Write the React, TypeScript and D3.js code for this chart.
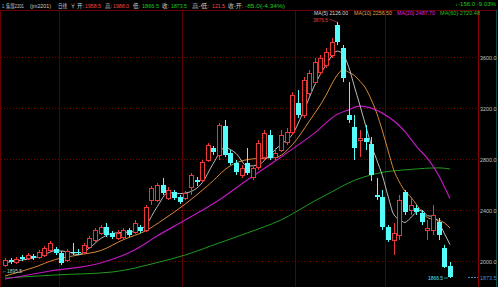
import React from "react";
import * as d3 from "d3";

const W = 498;
const H = 287;

// OHLC, one entry per trading day (index 0..79)
const opens = [1966, 2005, 1990, 2029, 2021, 2037, 2029, 2045, 2084, 2092, 2060, 2005, 2068, 2068, 2068, 2108, 2163, 2218, 2265, 2218,
  2178, 2186, 2241, 2226, 2265, 2241, 2477, 2477, 2595, 2493, 2540, 2501, 2493, 2579, 2634, 2634, 2791, 2886, 2831, 3059,
  2846, 2768, 2674, 2768, 2658, 2737, 2815, 2988, 2815, 2870, 2933, 3012, 3240, 3145, 3318, 3405, 3483, 3538, 3617, 3853,
  3672, 3145, 3051, 2949, 2965, 2917, 2516, 2501, 2265, 2163, 2202, 2540, 2398, 2414, 2375, 2241, 2241, 2304, 2100, 1958.5];
const highs = [2021, 2021, 2029, 2045, 2060, 2053, 2084, 2115, 2155, 2108, 2076, 2092, 2139, 2092, 2139, 2194, 2257, 2281, 2296, 2233,
  2241, 2257, 2257, 2320, 2281, 2438, 2587, 2611, 2650, 2579, 2556, 2516, 2548, 2690, 2658, 2791, 2925, 2902, 3083, 3106,
  2870, 2791, 2752, 2886, 2752, 2949, 3027, 3027, 2886, 3027, 3043, 3326, 3342, 3444, 3499, 3593, 3617, 3672, 3750, 3876.5,
  3695, 3405, 3145, 3027, 3067, 2972, 2650, 2556, 2281, 2296, 2516, 2556, 2493, 2438, 2398, 2320, 2438, 2336, 2123, 1988];
const lows = [1950, 1974, 1974, 1998, 2005, 2005, 2013, 2029, 2068, 2045, 1966, 1990, 2045, 2045, 2053, 2092, 2147, 2202, 2186, 2171,
  2163, 2171, 2186, 2210, 2218, 2226, 2438, 2461, 2516, 2477, 2477, 2446, 2477, 2516, 2587, 2619, 2776, 2831, 2791, 2815,
  2752, 2674, 2650, 2674, 2634, 2713, 2791, 2791, 2791, 2854, 2909, 2988, 3122, 3122, 3295, 3381, 3460, 3515, 3593, 3695,
  3405, 3083, 2791, 2815, 2870, 2627, 2477, 2241, 2147, 2045, 2163, 2359, 2359, 2359, 2281, 2163, 2202, 2163, 1943, 1866.5];
const closes = [2005, 1990, 2013, 2013, 2045, 2021, 2068, 2100, 2139, 2060, 1982, 2076, 2060, 2064, 2123, 2178, 2241, 2265, 2202, 2186,
  2218, 2241, 2202, 2296, 2233, 2422, 2571, 2595, 2532, 2556, 2493, 2461, 2532, 2674, 2619, 2776, 2909, 2854, 3067, 2831,
  2768, 2697, 2729, 2690, 2729, 2925, 3004, 2807, 2846, 2988, 3012, 3302, 3145, 3420, 3475, 3561, 3593, 3640, 3719, 3719,
  3436, 3106, 2886, 2965, 2933, 2674, 2501, 2265, 2163, 2218, 2477, 2383, 2438, 2383, 2304, 2257, 2359, 2202, 1950, 1873.5];

// Moving averages: [day index, value]
const ma5: [number, number][] = [[0, 1985], [3, 2005], [5, 2020], [7, 2050], [9, 2078], [11, 2071], [13, 2048], [15, 2100], [17, 2174],
  [19, 2214], [21, 2222], [23, 2229], [25, 2279], [27, 2423], [29, 2535], [31, 2527], [33, 2543], [35, 2612], [37, 2766], [39, 2887],
  [41, 2843], [43, 2743], [45, 2754], [47, 2831], [49, 2914], [51, 2991], [53, 3173], [55, 3381], [57, 3538], [59, 3646], [60, 3621],
  [61, 3524], [62, 3373], [63, 3222], [64, 3065], [65, 2913], [66, 2792], [67, 2668], [68, 2507], [69, 2364], [70, 2325], [71, 2301],
  [72, 2336], [73, 2380], [74, 2397], [75, 2353], [76, 2348], [77, 2301], [78, 2214], [79, 2126]];
const ma10: [number, number][] = [[0, 1880], [5, 1945], [9, 2010], [13, 2045], [17, 2080], [21, 2165], [25, 2235], [28, 2320], [32, 2445],
  [36, 2590], [40, 2745], [44, 2800], [48, 2810], [51, 2910], [54, 3095], [57, 3300], [58, 3386], [59, 3459], [60, 3501], [61, 3481],
  [62, 3456], [63, 3410], [64, 3356], [65, 3267], [66, 3158], [67, 3020], [68, 2865], [69, 2715], [70, 2619], [71, 2547], [72, 2502],
  [73, 2444], [74, 2381], [75, 2339], [76, 2325], [77, 2318], [78, 2297], [79, 2256.5]];
const ma20: [number, number][] = [[0, 1856], [8, 1919], [17, 1982], [23, 2084], [27, 2194], [32, 2320], [38, 2477], [43, 2634], [49, 2815],
  [55, 3004], [59, 3150], [61, 3185], [63, 3214], [67, 3159], [71, 3014], [73, 2900], [75, 2803], [76, 2741], [77, 2669], [78, 2581], [79, 2487.7]];
const ma60: [number, number][] = [[0, 1864], [9, 1888], [19, 1911], [27, 1985], [32, 2045], [38, 2139], [43, 2218], [49, 2320], [55, 2470],
  [58, 2540], [61, 2611], [66, 2685], [72, 2717], [77, 2729], [79, 2720.48]];

const yTicks = [2000, 2400, 2800, 3200, 3600];
const periodStarts = [10, 32, 52, 68];

const header: [string, number, number, string][] = [
  ["1.", 2, 3, "#c8c8c8"], ["焦煤2201", 6, 18, "#c8c8c8"], ["(jm2201)", 30, 21, "#c8c8c8"], ["日线", 58, 9, "#c8c8c8"],
  ["∀", 71, 4, "#c8c8c8"], ["开:", 77, 7, "#c8c8c8"], ["1958.5", 85, 16, "#ff4040"], ["高:", 105, 7, "#c8c8c8"],
  ["1988.0", 113, 16, "#ff4040"], ["低:", 133, 7, "#c8c8c8"], ["1866.5", 142, 17, "#20c820"], ["收:", 162, 7, "#c8c8c8"],
  ["1873.5", 171, 16, "#20c820"], ["高-低:", 192, 17, "#c8c8c8"], ["121.5", 212, 13, "#ff4040"], ["收-开:", 228, 15, "#c8c8c8"],
  ["-85.0(-4.34%)", 245, 40, "#20c820"],
];
const maLegend: [string, number, number, string][] = [
  ["MA(5) 2126.00", 314, 34, "#d8d8d8"], ["MA(10) 2256.50", 354, 38, "#e8a040"],
  ["MA(20) 2487.70", 397, 38, "#e020e0"], ["MA(60) 2720.48", 440, 40, "#20c020"],
];

const CYAN = "#54fcfc";
const RED = "#e83838";
const FONT = "'Liberation Sans', 'Noto Sans CJK SC', sans-serif";

export default function App() {
  const x = d3.scaleLinear().domain([0, 79]).range([5, 450]);
  const y = d3.scaleLinear().domain([2000, 3600]).range([260.7, 57]);
  const step = x(1) - x(0);
  const line = d3.line<[number, number]>().x((d) => x(d[0])).y((d) => y(d[1])).curve(d3.curveMonotoneX);
  const plotRight = 478;

  return (
    <svg width={W} height={H} style={{ position: "fixed", left: 0, top: 0, background: "#000" }}>
      <rect x={0} y={0} width={W} height={H} fill="#000" />
      {/* frame lines */}
      <line x1={0} x2={W} y1={10.5} y2={10.5} stroke="#6a0000" />
      <line x1={0.5} x2={0.5} y1={10} y2={H} stroke="#6a0000" />
      <line x1={plotRight + 0.5} x2={plotRight + 0.5} y1={10} y2={H} stroke="#8a0000" />
      <line x1={496.5} x2={496.5} y1={10} y2={H} stroke="#0c4a4a" />
      {/* vertical period lines */}
      {periodStarts.map((p) => {
        const xx = Math.round(x(p) - step / 2) + 0.5;
        return <line key={p} x1={xx} x2={xx} y1={11} y2={H} stroke="#5a0000" />;
      })}
      {/* horizontal grid */}
      {yTicks.map((t) => {
        const yy = Math.round(y(t)) + 0.5;
        return (
          <g key={t}>
            <line x1={1} x2={plotRight} y1={yy} y2={yy} stroke="#7a0000" strokeDasharray="1,2" />
            <text x={480} y={yy + 2} fontSize={5.4} fill="#c0c0c0" fontFamily={FONT}>
              {t.toFixed(1)}
            </text>
          </g>
        );
      })}
      {/* MA lines */}
      <path d={line(ma60) || ""} fill="none" stroke="#1f9a1f" strokeWidth={1} />
      <path d={line(ma20) || ""} fill="none" stroke="#c018c0" strokeWidth={1.2} />
      <path d={line(ma10) || ""} fill="none" stroke="#d88a38" strokeWidth={1} />
      <path d={line(ma5) || ""} fill="none" stroke="#d0d0d0" strokeWidth={0.9} />
      {/* candles */}
      {closes.map((c, i) => {
        const o = opens[i];
        const cx = Math.round(x(i)) + 0.5;
        const up = c >= o;
        const top = Math.round(y(Math.max(o, c)));
        const bot = Math.round(y(Math.min(o, c)));
        const hy = Math.round(y(highs[i]));
        const ly = Math.round(y(lows[i]));
        const bw = 4;
        if (up) {
          return (
            <g key={i} shapeRendering="crispEdges">
              <line x1={cx} x2={cx} y1={hy} y2={top} stroke={RED} />
              <line x1={cx} x2={cx} y1={bot} y2={ly} stroke={RED} />
              <rect x={cx - bw / 2} y={top + 0.5} width={bw} height={Math.max(bot - top, 1)} fill="#000" stroke={RED} strokeWidth={1} />
            </g>
          );
        }
        return (
          <g key={i} shapeRendering="crispEdges">
            <line x1={cx} x2={cx} y1={hy} y2={ly} stroke={CYAN} />
            <rect x={cx - bw / 2 - 0.5} y={top} width={bw + 1} height={Math.max(bot - top, 1)} fill={CYAN} />
          </g>
        );
      })}
      {/* extreme labels */}
      <text x={313} y={21.5} fontSize={5.5} fill="#e04040" fontFamily={FONT} textLength={15} lengthAdjust="spacingAndGlyphs">3876.5</text>
      <line x1={329} x2={Math.round(x(59))} y1={19} y2={Math.round(y(3876.5))} stroke="#e04040" strokeWidth={0.6} />
      <text x={428} y={280} fontSize={6} fill="#54e8e8" fontFamily={FONT} textLength={15} lengthAdjust="spacingAndGlyphs">1866.5</text>
      <line x1={444} x2={Math.round(x(79)) - 2} y1={278} y2={Math.round(y(1866.5))} stroke="#54e8e8" strokeWidth={0.6} />
      <text x={2} y={273} fontSize={6} fill="#9adada" fontFamily={FONT} textLength={20} lengthAdjust="spacingAndGlyphs">←1895.5</text>
      {/* last price on axis */}
      <line x1={468} x2={plotRight} y1={Math.round(y(1873.5)) + 0.5} y2={Math.round(y(1873.5)) + 0.5} stroke="#3a8ac0" strokeDasharray="2,1" />
      <text x={480} y={Math.round(y(1873.5)) + 2.5} fontSize={5.4} fill="#4a8ad0" fontFamily={FONT}>1873.5</text>
      {/* header */}
      {header.map(([t, xx, w, col], i) => (
        <text key={i} x={xx} y={8} fontSize={5.8} fill={col} fontFamily={FONT} textLength={w} lengthAdjust="spacingAndGlyphs">{t}</text>
      ))}
      <text x={455} y={6} fontSize={5.5} fill="#20c820" fontFamily={FONT} textLength={41} lengthAdjust="spacingAndGlyphs">↓-156.0 -9.03%</text>
      {maLegend.map(([t, xx, w, col], i) => (
        <text key={i} x={xx} y={15} fontSize={5.5} fill={col} fontFamily={FONT} textLength={w} lengthAdjust="spacingAndGlyphs">{t}</text>
      ))}
    </svg>
  );
}
